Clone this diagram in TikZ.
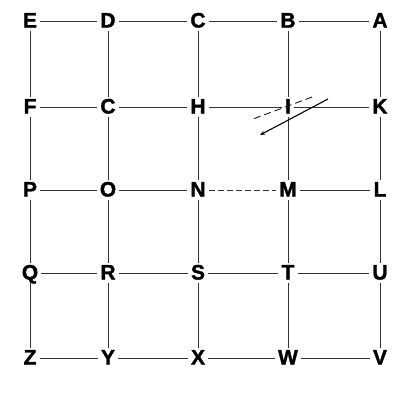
\documentclass[tikz,border=0pt]{standalone}
\usepackage{fontspec}
\setmainfont{Liberation Sans}
\newfontfamily\heavyfont[FakeBold=1.6]{Liberation Sans Bold}
\usetikzlibrary{arrows.meta}
\begin{document}
\begin{tikzpicture}[x=1bp,y=-1bp,
  letter/.style={font={\fontsize{21}{21}\heavyfont}, inner sep=3bp, text height=13bp, text depth=0pt},
  link/.style={line width=0.7bp, draw=black!80},
  dashlink/.style={link, dash pattern=on 6bp off 3bp},
]
\useasboundingbox (0,0) rectangle (409,403);
% columns x: 30,108,198,288,380 ; rows y: 21,107,190,273,358
\node[letter] (E) at (30,21) {E};
\node[letter] (D) at (108,21) {D};
\node[letter] (C) at (198,21) {C};
\node[letter] (B) at (288,21) {B};
\node[letter] (A) at (380,21) {A};
\node[letter] (F) at (30,107) {F};
\node[letter] (G) at (108,107) {C};
\node[letter] (H) at (198,107) {H};
\node[letter] (I) at (288,107) {I};
\node[letter] (K) at (380,107) {K};
\node[letter] (P) at (30,190) {P};
\node[letter] (O) at (108,190) {O};
\node[letter] (N) at (198,190) {N};
\node[letter] (M) at (288,190) {M};
\node[letter] (L) at (380,190) {L};
\node[letter] (Q) at (30,273) {Q};
\node[letter] (R) at (108,273) {R};
\node[letter] (S) at (198,273) {S};
\node[letter] (T) at (288,273) {T};
\node[letter] (U) at (380,273) {U};
\node[letter] (Z) at (30,358) {Z};
\node[letter] (Y) at (108,358) {Y};
\node[letter] (X) at (198,358) {X};
\node[letter] (W) at (288,358) {W};
\node[letter] (V) at (380,358) {V};
% horizontal links
\foreach \a/\b in {E/D,D/C,C/B,B/A,F/G,G/H,H/I,I/K,P/O,O/N,M/L,Q/R,R/S,S/T,T/U,Z/Y,Y/X,X/W,W/V}
  \draw[link] (\a) -- (\b);
\draw[dashlink] (N) -- (M);
% vertical links
\foreach \a/\b in {E/F,F/P,P/Q,Q/Z,D/G,G/O,O/R,R/Y,C/H,H/N,N/S,S/X,B/I,I/M,M/T,T/W,A/K,K/L,L/U,U/V}
  \draw[link] (\a) -- (\b);
% arrows near I
\coordinate (s1) at (328,99);
\coordinate (e1) at (260,135);
\coordinate (s2) at (312,97);
\coordinate (e2) at (253,119);
\draw[line width=1.1bp, -{Stealth[length=5bp,width=4bp]}] (s1) -- (e1);
\draw[line width=0.8bp, dash pattern=on 7bp off 4bp] (s2) -- (e2);
\end{tikzpicture}
\end{document}
